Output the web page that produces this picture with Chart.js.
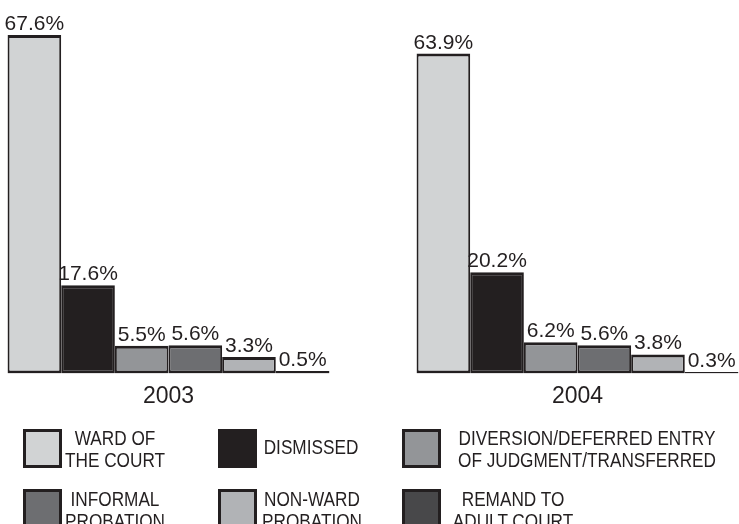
<!DOCTYPE html>
<html>
<head>
<meta charset="utf-8">
<script src="https://cdn.jsdelivr.net/npm/chart.js@4/dist/chart.umd.min.js"></script>
<style>
  html, body { margin: 0; padding: 0; background: #ffffff; overflow: hidden; width: 739px; height: 524px; }
  #wrap { position: absolute; left: -36px; top: 0; width: 818px; height: 419px; }
  #legend { position: absolute; left: 0; top: 0; width: 739px; height: 524px; pointer-events: none; }
  .sw { position: absolute; width: 33px; height: 33px; border: 3px solid #231f20; }
  .lt { position: absolute; white-space: nowrap; text-align: center; font-family: "Liberation Sans", Arial, sans-serif;
        font-size: 20px; line-height: 22px; color: #231f20; transform: translateX(-50%) scaleX(0.86); }
</style>
</head>
<body>
<div id="wrap"><canvas id="c" width="818" height="419"></canvas></div>
<div id="legend"></div>
<script>
// ---- data ----
const categories = ['2003', '2004'];
const seriesNames = ['WARD OF THE COURT', 'DISMISSED', 'DIVERSION/DEFERRED ENTRY OF JUDGMENT/TRANSFERRED',
                     'INFORMAL PROBATION', 'NON-WARD PROBATION', 'REMAND TO ADULT COURT'];
const legendLines = [['WARD OF', 'THE COURT'], ['DISMISSED'], ['DIVERSION/DEFERRED ENTRY', 'OF JUDGMENT/TRANSFERRED'],
                     ['INFORMAL', 'PROBATION'], ['NON-WARD', 'PROBATION'], ['REMAND TO', 'ADULT COURT']];
const wardOfCourt = [67.6, 63.9];
const dismissed = [17.6, 20.2];
const diversion = [5.5, 6.2];
const informalProbation = [5.6, 5.6];
const nonWardProbation = [3.3, 3.8];
const remandAdult = [0.5, 0.3];
const yMin = 0, yMax = 70;

// ---- styles ----
const fills = ['#d1d3d4', '#231f20', '#939598', '#6d6e71', '#b1b3b6', '#48484a'];
const edge = '#231f20';
const seriesValues = [wardOfCourt, dismissed, diversion, informalProbation, nonWardProbation, remandAdult];

const datasets = seriesValues.map((vals, i) => ({
  label: seriesNames[i],
  data: vals,
  backgroundColor: fills[i],
  borderColor: edge,
  borderWidth: { top: 3, bottom: 3, left: 2, right: 2 },
  borderSkipped: false,
  categoryPercentage: 0.787,
  barPercentage: 1.0
}));

const valueLabels = {
  id: 'valueLabels',
  afterDatasetsDraw(chart) {
    const ctx = chart.ctx;
    ctx.save();
    ctx.font = '21px "Liberation Sans", Arial, sans-serif';
    ctx.fillStyle = '#231f20';
    ctx.textAlign = 'center';
    ctx.textBaseline = 'alphabetic';
    chart.data.datasets.forEach((ds, i) => {
      const meta = chart.getDatasetMeta(i);
      meta.data.forEach((bar, j) => {
        ctx.fillText(ds.data[j].toFixed(1) + '%', bar.x, bar.y - 5);
      });
    });
    ctx.restore();
  }
};

new Chart(document.getElementById('c'), {
  type: 'bar',
  data: { labels: categories, datasets },
  options: {
    responsive: false,
    animation: false,
    devicePixelRatio: 1,
    layout: { padding: { top: 23, left: 0, right: 0, bottom: 0 } },
    plugins: { legend: { display: false }, tooltip: { enabled: false } },
    scales: {
      x: {
        grid: { display: false, drawTicks: false },
        border: { display: false },
        ticks: { color: '#231f20', font: { family: '"Liberation Sans", Arial, sans-serif', size: 23 }, padding: 9 }
      },
      y: { display: false, min: yMin, max: yMax }
    }
  },
  plugins: [valueLabels]
});

// ---- HTML legend (positions) ----
const swatchPos = [[23, 429], [218, 429], [402, 429], [23, 489], [218, 489], [402, 489]];
const textPos = [[115, 427], [311, 436], [587, 427], [115, 488], [312, 488], [513, 488]];
const lg = document.getElementById('legend');
legendLines.forEach((lines, i) => {
  const s = document.createElement('div');
  s.className = 'sw';
  s.style.left = swatchPos[i][0] + 'px';
  s.style.top = swatchPos[i][1] + 'px';
  s.style.background = fills[i];
  lg.appendChild(s);
  const t = document.createElement('div');
  t.className = 'lt';
  t.style.left = textPos[i][0] + 'px';
  t.style.top = textPos[i][1] + 'px';
  t.innerHTML = lines.join('<br>');
  lg.appendChild(t);
});
</script>
</body>
</html>
